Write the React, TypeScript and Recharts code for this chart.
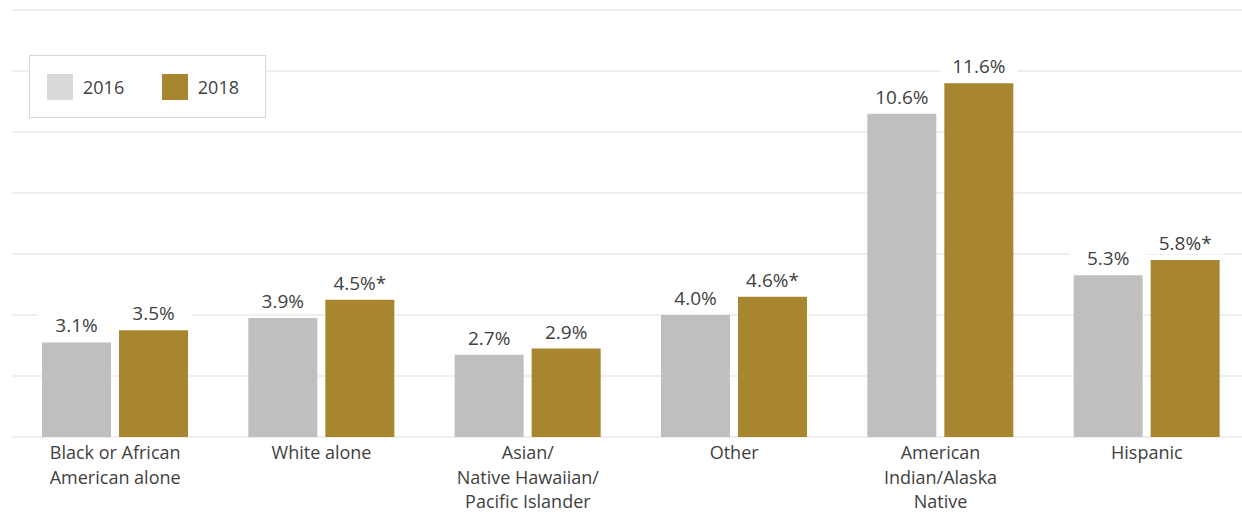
import { Bar, BarChart, CartesianGrid, LabelList, Legend, XAxis, YAxis } from "recharts";

const categories = [
  "Black or African\nAmerican alone",
  "White alone",
  "Asian/\nNative Hawaiian/\nPacific Islander",
  "Other",
  "American\nIndian/Alaska\nNative",
  "Hispanic",
];
const values2016 = [3.1, 3.9, 2.7, 4.0, 10.6, 5.3];
const values2018 = [3.5, 4.5, 2.9, 4.6, 11.6, 5.8];
// asterisk = statistically significant change
const sig2018 = [false, true, false, true, false, true];
const yTicks = [0, 2, 4, 6, 8, 10, 12, 14];

const GRAY = "#bfbfbf";
const GOLD = "#a8862f";
const FONT = "'Open Sans', sans-serif";
const TEXT = "#3f3f3f";

const data = categories.map((c, i) => ({
  name: c,
  y2016: values2016[i],
  y2018: values2018[i],
  sig: sig2018[i],
}));

function makeLabel(key: "y2016" | "y2018") {
  return (props: any) => {
    const { x, y, width, index } = props;
    const d = data[index];
    const txt = d[key].toFixed(1) + "%" + (key === "y2018" && d.sig ? "*" : "");
    const cx = x + width / 2;
    return (
      <g>
        <rect x={x - 4} y={y - 31} width={width + 8} height={25} fill="#fff" />
        <text x={cx} y={y - 10} textAnchor="middle" fontSize={19} fontFamily={FONT} fill={TEXT}>
          {txt}
        </text>
      </g>
    );
  };
}

function CategoryTick(props: any) {
  const { x, y, payload } = props;
  const lines = String(payload.value).split("\n");
  return (
    <text x={x} y={y + 14} textAnchor="middle" fontSize={18} fontFamily={FONT} fill={TEXT}>
      {lines.map((l, i) => (
        <tspan key={i} x={x} dy={i === 0 ? 0 : 24.5}>
          {l}
        </tspan>
      ))}
    </text>
  );
}

function LegendBox() {
  const item = (color: string, label: string) => (
    <div style={{ display: "flex", alignItems: "center", marginRight: 26 }}>
      <div style={{ width: 26, height: 26, background: color, marginRight: 10 }} />
      <span style={{ fontSize: 18, fontFamily: FONT, color: TEXT }}>{label}</span>
    </div>
  );
  return (
    <div
      style={{
        border: "1px solid #d6d6d6",
        background: "#fff",
        width: 218,
        height: 61,
        display: "flex",
        alignItems: "center",
        paddingLeft: 17,
        boxSizing: "content-box",
      }}
    >
      {item("#d9d9db", "2016")}
      <div style={{ width: 23 }} />
      {item(GOLD, "2018")}
    </div>
  );
}

export default function App() {
  return (
    <div style={{ position: "absolute", left: 0, top: 0, width: 1242, height: 514, overflow: "hidden", background: "#fff" }}>
      <BarChart
        width={1250}
        height={514}
        data={data}
        margin={{ top: 10, right: 0, left: 12, bottom: 0 }}
        barCategoryGap={30}
        barGap={8}
      >
        <CartesianGrid vertical={false} stroke="#e0e0e0" strokeWidth={1.2} />
        <YAxis hide domain={[0, 14]} ticks={yTicks} width={0} />
        <XAxis
          dataKey="name"
          axisLine={false}
          tickLine={false}
          height={77}
          interval={0}
          tick={<CategoryTick />}
        />
        <Legend
          verticalAlign="middle"
          align="center"
          content={() => <LegendBox />}
          wrapperStyle={{ left: 29, top: 55, width: 240, height: 63 }}
        />
        <Bar dataKey="y2016" fill={GRAY} isAnimationActive={false}>
          <LabelList dataKey="y2016" content={makeLabel("y2016")} />
        </Bar>
        <Bar dataKey="y2018" fill={GOLD} isAnimationActive={false}>
          <LabelList dataKey="y2018" content={makeLabel("y2018")} />
        </Bar>
      </BarChart>
    </div>
  );
}
